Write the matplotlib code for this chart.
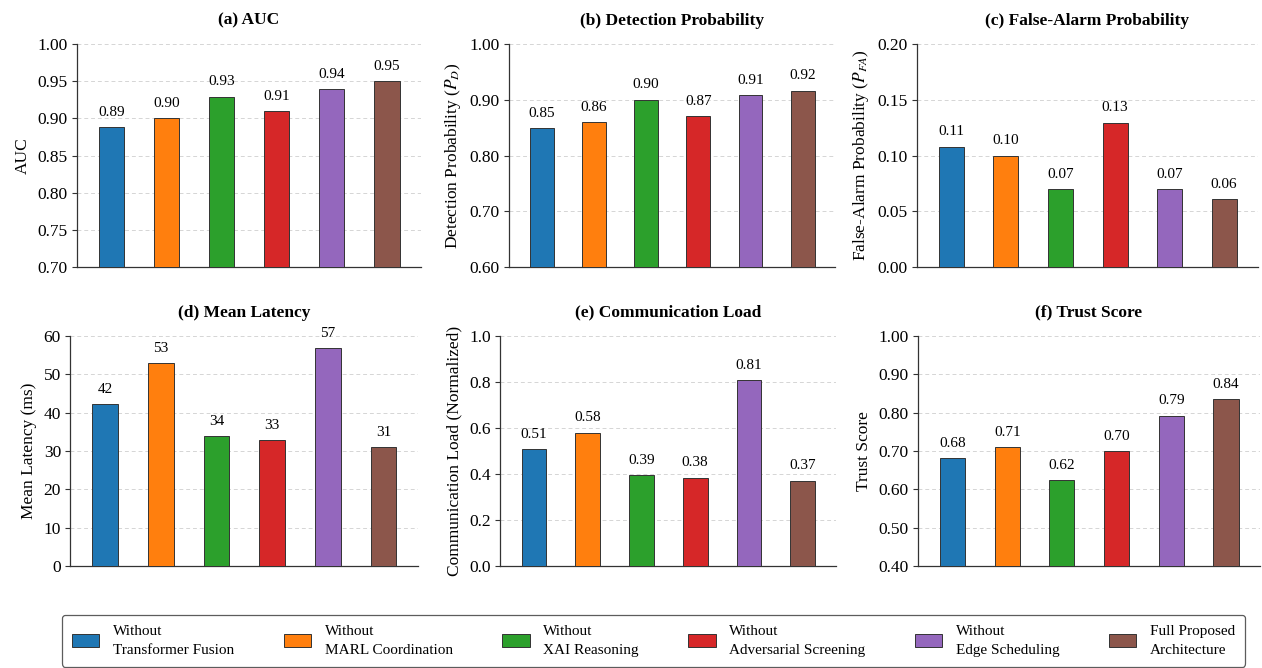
import matplotlib
matplotlib.use("Agg")
import matplotlib.pyplot as plt
from matplotlib.patches import Patch

plt.rcParams['font.family'] = ['Liberation Serif', 'DejaVu Serif']
plt.rcParams['mathtext.fontset'] = 'stix'

# ---------------- data ----------------
variants = ["Without\nTransformer Fusion", "Without\nMARL Coordination", "Without\nXAI Reasoning",
            "Without\nAdversarial Screening", "Without\nEdge Scheduling", "Full Proposed\nArchitecture"]
colors = ["#1f77b4", "#ff7f0e", "#2ca02c", "#d62728", "#9467bd", "#8c564b"]

auc = [0.888, 0.900, 0.929, 0.910, 0.939, 0.950]
pd_vals = [0.849, 0.860, 0.900, 0.871, 0.908, 0.916]
pfa = [0.108, 0.100, 0.070, 0.1295, 0.070, 0.061]
latency = [42.2, 53.0, 33.8, 32.8, 56.9, 31.0]
comm = [0.508, 0.579, 0.394, 0.384, 0.809, 0.371]
trust = [0.682, 0.710, 0.624, 0.700, 0.792, 0.836]

titles = ["(a) AUC", "(b) Detection Probability", "(c) False-Alarm Probability",
          "(d) Mean Latency", "(e) Communication Load", "(f) Trust Score"]
ylabels = ["AUC", r"Detection Probability ($P_D$)", r"False-Alarm Probability ($P_{FA}$)",
           "Mean Latency (ms)", "Communication Load (Normalized)", "Trust Score"]
ylims = [(0.70, 1.00), (0.60, 1.00), (0.00, 0.20), (0, 60), (0.0, 1.0), (0.40, 1.00)]
yticks = [[0.70, 0.75, 0.80, 0.85, 0.90, 0.95, 1.00],
          [0.60, 0.70, 0.80, 0.90, 1.00],
          [0.00, 0.05, 0.10, 0.15, 0.20],
          [0, 10, 20, 30, 40, 50, 60],
          [0.0, 0.2, 0.4, 0.6, 0.8, 1.0],
          [0.40, 0.50, 0.60, 0.70, 0.80, 0.90, 1.00]]
tickfmt = ["{:.2f}", "{:.2f}", "{:.2f}", "{:.0f}", "{:.1f}", "{:.2f}"]
valfmt = ["{:.2f}", "{:.2f}", "{:.2f}", "{:.0f}", "{:.2f}", "{:.2f}"]
datasets = [auc, pd_vals, pfa, latency, comm, trust]

W, H = 1262, 668
positions = [
    (77, 44, 421, 267), (509, 44, 835, 267), (917, 44, 1258, 267),
    (70, 336, 418, 566), (500, 336, 836, 566), (918, 336, 1260, 566),
]

fig = plt.figure(figsize=(W / 100, H / 100), dpi=100)

for i, (vals, (x0, y0, x1, y1)) in enumerate(zip(datasets, positions)):
    ax = fig.add_axes([x0 / W, 1 - y1 / H, (x1 - x0) / W, (y1 - y0) / H])
    xs = list(range(len(vals)))
    ax.bar(xs, vals, width=0.46, color=colors, edgecolor="#333333", linewidth=0.7, zorder=3)
    ax.set_xlim(-0.63, 5.62)
    ax.set_ylim(*ylims[i])
    ax.set_yticks(yticks[i])
    ax.set_yticklabels([tickfmt[i].format(t) for t in yticks[i]], fontsize=12.5)
    ax.set_xticks([])
    ax.grid(axis="y", linestyle=(0, (4, 3)), color="#d5d5d5", linewidth=0.7, zorder=0)
    for s in ["top", "right"]:
        ax.spines[s].set_visible(False)
    for s in ["left", "bottom"]:
        ax.spines[s].set_color("#333333")
        ax.spines[s].set_linewidth(0.9)
    ax.tick_params(axis="y", length=3.5, width=0.8, color="#333333", pad=3)
    ax.set_title(titles[i], fontsize=12.5, fontweight="bold", pad=14)
    ax.set_ylabel(ylabels[i], fontsize=12.5, labelpad=5)
    for x, v in zip(xs, vals):
        ax.annotate(valfmt[i].format(v), (x, v), xytext=(0, 6), textcoords="offset points",
                    ha="center", va="bottom", fontsize=11)

handles = [Patch(facecolor=c, edgecolor="#333333", linewidth=0.7) for c in colors]
leg = fig.legend(handles, variants, ncol=6, loc="lower left",
                 bbox_to_anchor=(62 / W, 1.5 / H, (1245 - 62) / W, 57 / H), mode="expand",
                 borderaxespad=0.0,
                 fontsize=11, frameon=True, fancybox=True, edgecolor="#333333",
                 handlelength=1.8, handleheight=0.9, handletextpad=0.9,
                 borderpad=0.65, labelspacing=0.3)
leg.get_frame().set_linewidth(0.9)
for t in leg.get_texts():
    t.set_linespacing(1.6)

fig.savefig("out.png", dpi=100, facecolor="white")
